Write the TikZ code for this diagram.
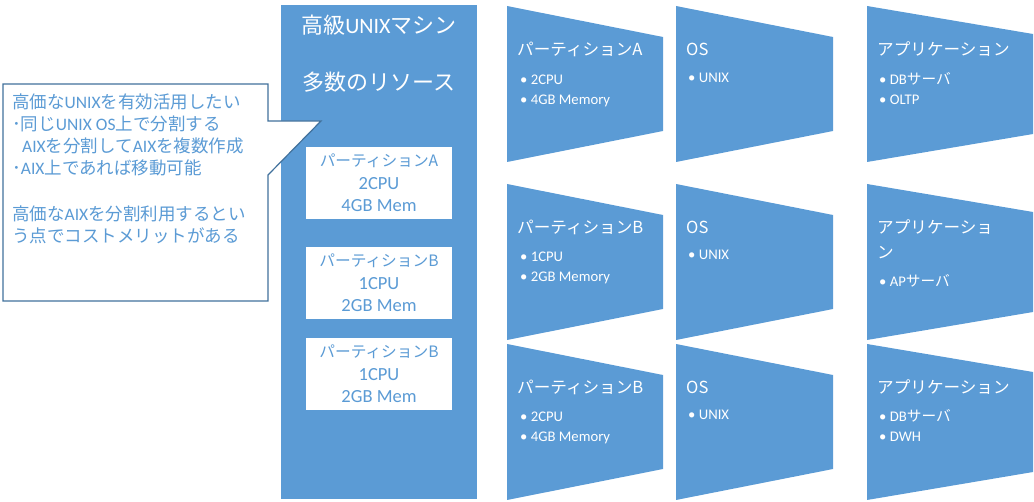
\documentclass[tikz,border=0pt]{standalone}
\usepackage{fontspec}
\setmainfont{Noto Sans CJK JP}
\newfontfamily\enfont{Carlito}
\newfontfamily\jpfont{Noto Sans CJK JP}
\newcommand{\eng}[1]{{\enfont #1}}
\newcommand{\jpn}[1]{{\jpfont #1}}
\newcommand{\mem}[1]{{\enfont\fontsize{18.5}{22.5}\selectfont #1}}
\usepackage{xcolor}
\definecolor{tile}{HTML}{5B9BD5}
\definecolor{edge}{HTML}{41719C}
\usetikzlibrary{positioning}

\begin{document}
\begin{tikzpicture}[x=1pt, y=-1pt, every node/.style={inner sep=0pt},
  head/.style={font=\fontsize{16.6}{25}\selectfont, text=white, anchor=base west, align=left},
  items/.style={font=\fontsize{14.7}{20}\selectfont\enfont, text=white, anchor=base west, align=left},
  part/.style={fill=white, minimum width=146pt, minimum height=72pt, align=center,
    text=tile, font=\fontsize{15.7}{22.5}\selectfont},
  big/.style={font=\fontsize{22}{26}\selectfont, text=white},
  note/.style={font=\fontsize{17.5}{22}\selectfont, text=tile, anchor=base west, align=left}]
\useasboundingbox (0,0) rectangle (1034,502);

% the machine and its resources
\node[fill=tile, minimum width=196pt, minimum height=494pt] (host) at (379,252) {};
\node[big] (hostname) at (379,25) {高級\eng{UNIX}マシン};
\node[big] (pool) at (379,82) {多数のリソース};
\node[part] (pA)  at (379,183) {パーティションA\\\mem{2CPU}\\\mem{4GB Mem}};
\node[part] (pB1) at (379,283) {パーティションB\\\mem{1CPU}\\\mem{2GB Mem}};
\node[part] (pB2) at (379,374) {パーティションB\\\mem{1CPU}\\\mem{2GB Mem}};

% callout (base = last line)
\filldraw[fill=white, draw=edge, line width=1.2pt]
  (3,84) -- (268,84) -- (268,121) -- (321,121) -- (268,175) -- (268,301) -- (3,301) -- cycle;
\node[note] (memo) at (12,242.5) {高価な\eng{UNIX}を有効活用したい\\
  ･同じ\eng{UNIX OS}上で分割する\\
  \hspace*{10pt}\eng{AIX}を分割して\eng{AIX}を複数作成\\
  ･\eng{AIX}上であれば移動可能\\[24pt]
  高価な\eng{AIX}を分割利用するとい\\
  う点でコストメリットがある};

% partitions, os, applications
\foreach \x/\w/\d in {507/156/31, 676/157/31, 867/166/28}
  \foreach \y in {6,184,344}
    \fill[tile] (\x,\y) -- ++(\w,\d) -- ++(0,{156-2*\d}) -- ++(-\w,\d) -- cycle;

\node[head]  (partA)     at (517,55.5) {パーティションA};
\node[items] (partAlist) at (520,105)  {• 2CPU\\• 4GB Memory};
\node[head]  (osA)       at (686,55.5) {OS};
\node[items] (osAlist)   at (688,83)   {• UNIX};
\node[head]  (appA)      at (877,55.5) {アプリケーション};
\node[items] (appAlist)  at (879,105)  {• DB\jpn{サーバ}\\• OLTP};

\node[head]  (partB)     at (517,233.5) {パーティションB};
\node[items] (partBlist) at (520,282)   {• 1CPU\\• 2GB Memory};
\node[head]  (osB)       at (686,233.5) {OS};
\node[items] (osBlist)   at (688,260)   {• UNIX};
\node[head]  (appB)      at (877,258.5) {アプリケーショ\\ン};
\node[items] (appBlist)  at (879,287)   {• AP\jpn{サーバ}};

\node[head]  (partC)     at (517,393.5) {パーティションB};
\node[items] (partClist) at (520,442)   {• 2CPU\\• 4GB Memory};
\node[head]  (osC)       at (686,393.5) {OS};
\node[items] (osClist)   at (688,420)   {• UNIX};
\node[head]  (appC)      at (877,393.5) {アプリケーション};
\node[items] (appClist)  at (879,442)   {• DB\jpn{サーバ}\\• DWH};
\end{tikzpicture}
\end{document}
